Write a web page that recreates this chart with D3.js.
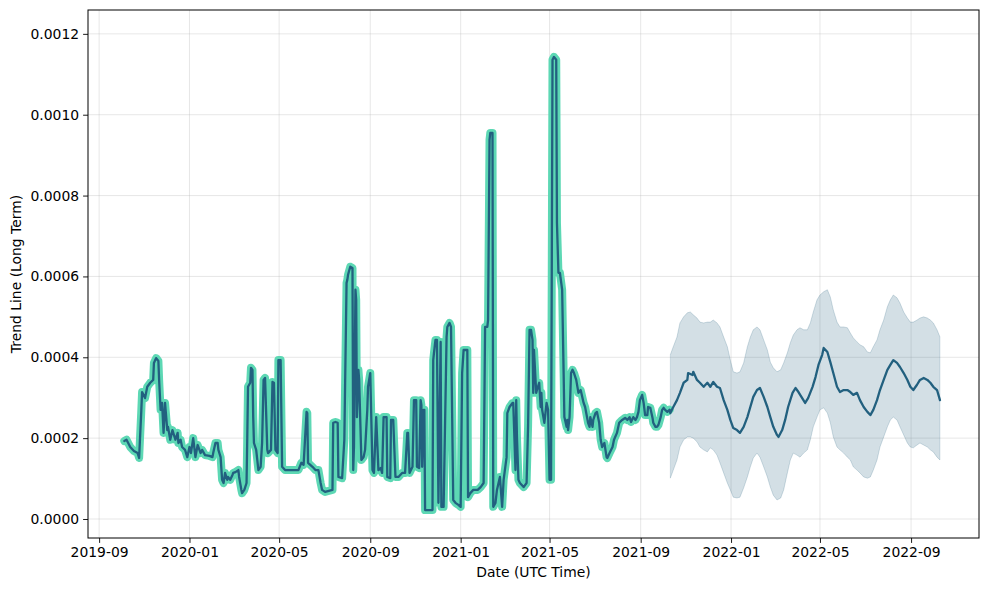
<!DOCTYPE html>
<html><head><meta charset="utf-8">
<script src="https://cdn.jsdelivr.net/npm/d3@7"></script>
<style>body{margin:0;background:#fff} svg{display:block} text{font-family:"DejaVu Sans",sans-serif}</style>
</head><body><svg id="chart" width="989" height="590"></svg>
<script>
// ---------- data ----------
const startDate = "2019-10-05";            // day 0 of the series
const xDomain = ["2019-08-17T00:00", "2022-12-01T16:00"];
const yDomain = [-0.000047, 0.001259];
const yTickValues = [0, 0.0002, 0.0004, 0.0006, 0.0008, 0.0010, 0.0012];
const xLabel = "Date (UTC Time)";
const yLabel = "Trend Line (Long Term)";

// historical trend: [day offset, value]
const histSeries = [[0,1.93e-4],[3,1.96e-4],[8,1.78e-4],[13,1.68e-4],[18,1.63e-4],[20,1.51e-4],[23,2.70e-4],[24,3.14e-4],[28,2.99e-4],[31,3.27e-4],[35,3.37e-4],[39,3.44e-4],[40,3.86e-4],[43,3.98e-4],[46,3.91e-4],[47,3.44e-4],[49,2.70e-4],[51,2.87e-4],[53,2.13e-4],[55,2.87e-4],[58,2.20e-4],[59,2.28e-4],[62,1.96e-4],[65,2.20e-4],[69,1.96e-4],[72,2.13e-4],[73,1.88e-4],[76,1.96e-4],[78,1.78e-4],[82,1.71e-4],[85,1.53e-4],[88,1.78e-4],[90,1.63e-4],[93,2.00e-4],[96,1.53e-4],[99,1.83e-4],[103,1.63e-4],[105,1.71e-4],[109,1.58e-4],[115,1.56e-4],[119,1.53e-4],[120,1.63e-4],[123,1.88e-4],[126,1.88e-4],[127,1.71e-4],[130,1.53e-4],[132,0.97e-4],[134,0.89e-4],[136,1.14e-4],[139,0.97e-4],[140,1.04e-4],[143,0.97e-4],[146,1.09e-4],[147,1.14e-4],[150,1.16e-4],[154,1.21e-4],[155,1.04e-4],[158,0.72e-4],[159,0.64e-4],[162,0.72e-4],[165,0.89e-4],[166,2.03e-4],[167,3.27e-4],[170,3.37e-4],[171,3.74e-4],[173,3.69e-4],[174,2.52e-4],[175,1.88e-4],[178,1.71e-4],[181,1.21e-4],[184,1.29e-4],[186,1.88e-4],[188,3.44e-4],[190,3.49e-4],[193,1.71e-4],[194,1.63e-4],[198,1.71e-4],[200,3.39e-4],[202,3.37e-4],[204,1.71e-4],[207,1.63e-4],[208,3.93e-4],[211,3.93e-4],[213,1.29e-4],[217,1.21e-4],[227,1.21e-4],[235,1.21e-4],[239,1.39e-4],[242,1.34e-4],[246,2.65e-4],[247,2.62e-4],[248,1.39e-4],[254,1.29e-4],[258,1.21e-4],[262,1.21e-4],[265,0.89e-4],[267,0.72e-4],[271,0.67e-4],[281,0.72e-4],[282,2.38e-4],[285,2.40e-4],[288,2.38e-4],[289,1.04e-4],[294,1.01e-4],[297,1.96e-4],[298,3.27e-4],[300,5.84e-4],[301,5.91e-4],[302,6.04e-4],[305,6.24e-4],[308,6.21e-4],[309,1.21e-4],[310,1.78e-4],[312,5.67e-4],[313,5.42e-4],[314,2.52e-4],[316,3.69e-4],[317,3.44e-4],[320,1.46e-4],[323,1.53e-4],[325,1.71e-4],[328,2.70e-4],[329,3.27e-4],[332,3.61e-4],[335,1.21e-4],[337,1.14e-4],[340,2.52e-4],[343,1.21e-4],[346,1.26e-4],[348,1.14e-4],[350,2.52e-4],[354,2.52e-4],[355,1.04e-4],[359,1.01e-4],[360,2.45e-4],[363,2.45e-4],[366,1.04e-4],[370,1.04e-4],[375,1.14e-4],[379,1.14e-4],[382,2.13e-4],[383,2.13e-4],[385,1.14e-4],[389,1.29e-4],[391,2.94e-4],[394,2.94e-4],[395,1.29e-4],[398,1.26e-4],[400,2.94e-4],[401,2.82e-4],[402,1.29e-4],[404,2.70e-4],[405,2.70e-4],[406,0.22e-4],[410,0.22e-4],[416,0.22e-4],[417,3.93e-4],[418,4.11e-4],[420,4.43e-4],[422,4.43e-4],[424,0.40e-4],[427,4.38e-4],[428,0.30e-4],[431,0.30e-4],[435,4.50e-4],[436,4.75e-4],[439,4.85e-4],[441,4.75e-4],[444,0.47e-4],[447,0.40e-4],[451,0.35e-4],[454,0.30e-4],[456,3.61e-4],[458,4.18e-4],[460,4.18e-4],[463,4.18e-4],[464,0.54e-4],[467,0.64e-4],[471,0.72e-4],[477,0.72e-4],[481,0.79e-4],[485,0.89e-4],[487,4.75e-4],[490,4.75e-4],[491,4.92e-4],[493,9.38e-4],[494,9.55e-4],[497,9.55e-4],[498,0.30e-4],[501,0.40e-4],[503,0.72e-4],[507,1.04e-4],[510,0.30e-4],[512,0.97e-4],[516,1.53e-4],[517,2.62e-4],[520,2.77e-4],[524,2.87e-4],[525,2.87e-4],[528,1.21e-4],[529,2.94e-4],[530,2.03e-4],[532,0.97e-4],[534,0.89e-4],[539,0.79e-4],[543,0.89e-4],[545,2.28e-4],[547,4.68e-4],[549,4.68e-4],[551,4.43e-4],[552,3.12e-4],[553,4.18e-4],[556,3.12e-4],[557,3.19e-4],[560,3.37e-4],[562,2.77e-4],[563,3.12e-4],[564,2.70e-4],[567,2.38e-4],[570,2.87e-4],[572,2.70e-4],[574,0.97e-4],[576,0.97e-4],[578,11.36e-4],[580,11.43e-4],[583,11.36e-4],[584,7.32e-4],[586,6.09e-4],[588,6.09e-4],[591,5.67e-4],[593,3.61e-4],[594,2.52e-4],[597,2.28e-4],[598,2.45e-4],[599,2.20e-4],[601,2.52e-4],[603,3.61e-4],[605,3.69e-4],[607,3.61e-4],[610,3.44e-4],[613,3.12e-4],[616,3.19e-4],[620,2.87e-4],[622,2.77e-4],[626,2.38e-4],[628,2.28e-4],[629,2.52e-4],[632,2.28e-4],[633,2.45e-4],[636,2.62e-4],[638,2.65e-4],[641,2.38e-4],[643,1.96e-4],[645,1.78e-4],[648,1.88e-4],[651,1.53e-4],[652,1.51e-4],[655,1.63e-4],[659,1.78e-4],[661,1.96e-4],[665,2.13e-4],[668,2.38e-4],[672,2.45e-4],[676,2.50e-4],[679,2.45e-4],[682,2.52e-4],[684,2.40e-4],[687,2.52e-4],[690,2.45e-4],[692,2.52e-4],[694,2.65e-4],[696,2.94e-4],[699,3.07e-4],[701,2.87e-4],[703,2.57e-4],[706,2.57e-4],[707,2.77e-4],[710,2.75e-4],[713,2.50e-4],[714,2.38e-4],[717,2.28e-4],[719,2.28e-4],[721,2.33e-4],[724,2.52e-4],[726,2.70e-4],[728,2.75e-4],[730,2.70e-4],[733,2.65e-4],[736,2.70e-4]];

// forecast trend: [day offset, value]
const forecastSeries = [[737,2.62e-4],[741,2.77e-4],[746,2.94e-4],[750,3.12e-4],[755,3.37e-4],[760,3.44e-4],[761,3.61e-4],[767,3.56e-4],[768,3.64e-4],[773,3.44e-4],[777,3.37e-4],[782,3.27e-4],[787,3.37e-4],[791,3.27e-4],[795,3.39e-4],[800,3.27e-4],[804,3.24e-4],[809,2.94e-4],[814,2.70e-4],[818,2.45e-4],[822,2.25e-4],[827,2.20e-4],[831,2.13e-4],[836,2.28e-4],[841,2.52e-4],[845,2.77e-4],[849,3.02e-4],[854,3.19e-4],[858,3.24e-4],[863,3.02e-4],[868,2.77e-4],[872,2.52e-4],[876,2.28e-4],[881,2.08e-4],[883,2.03e-4],[888,2.20e-4],[892,2.45e-4],[896,2.77e-4],[902,3.12e-4],[906,3.24e-4],[910,3.14e-4],[915,2.99e-4],[919,2.87e-4],[923,2.99e-4],[929,3.27e-4],[933,3.51e-4],[937,3.81e-4],[942,4.06e-4],[944,4.23e-4],[949,4.13e-4],[953,3.88e-4],[957,3.61e-4],[962,3.27e-4],[966,3.14e-4],[971,3.19e-4],[976,3.19e-4],[980,3.14e-4],[984,3.07e-4],[989,3.12e-4],[993,2.94e-4],[998,2.77e-4],[1003,2.65e-4],[1007,2.57e-4],[1011,2.70e-4],[1016,2.94e-4],[1020,3.19e-4],[1025,3.44e-4],[1030,3.69e-4],[1034,3.81e-4],[1038,3.93e-4],[1043,3.86e-4],[1047,3.76e-4],[1052,3.61e-4],[1057,3.44e-4],[1061,3.27e-4],[1065,3.19e-4],[1070,3.32e-4],[1074,3.44e-4],[1079,3.49e-4],[1084,3.44e-4],[1088,3.37e-4],[1092,3.27e-4],[1097,3.19e-4],[1101,2.94e-4]];

// forecast uncertainty band: [day offset, lower, upper]
const forecastBand = [[737,1.01e-4,4.06e-4],[741,1.21e-4,4.26e-4],[746,1.46e-4,4.50e-4],[750,1.78e-4,4.85e-4],[755,1.96e-4,5.00e-4],[760,2.03e-4,5.10e-4],[764,2.03e-4,5.12e-4],[768,2.00e-4,5.05e-4],[773,1.91e-4,4.97e-4],[777,1.78e-4,4.87e-4],[782,1.71e-4,4.85e-4],[787,1.66e-4,4.87e-4],[791,1.76e-4,4.87e-4],[795,1.71e-4,4.92e-4],[800,1.58e-4,4.85e-4],[804,1.39e-4,4.75e-4],[809,1.14e-4,4.50e-4],[814,0.89e-4,4.26e-4],[818,0.72e-4,3.93e-4],[822,0.54e-4,3.64e-4],[827,0.52e-4,3.61e-4],[831,0.54e-4,3.64e-4],[836,0.77e-4,3.86e-4],[841,1.04e-4,4.26e-4],[845,1.29e-4,4.50e-4],[849,1.51e-4,4.68e-4],[854,1.63e-4,4.75e-4],[858,1.53e-4,4.68e-4],[863,1.29e-4,4.43e-4],[868,1.04e-4,4.18e-4],[872,0.79e-4,3.88e-4],[876,0.59e-4,3.74e-4],[881,0.47e-4,3.64e-4],[886,0.52e-4,3.69e-4],[890,0.72e-4,3.86e-4],[895,1.14e-4,4.11e-4],[899,1.46e-4,4.36e-4],[903,1.63e-4,4.55e-4],[908,1.58e-4,4.68e-4],[912,1.53e-4,4.73e-4],[917,1.63e-4,4.68e-4],[922,1.71e-4,4.68e-4],[926,1.96e-4,4.85e-4],[930,2.28e-4,5.12e-4],[935,2.52e-4,5.42e-4],[939,2.70e-4,5.54e-4],[944,2.75e-4,5.62e-4],[949,2.62e-4,5.67e-4],[953,2.38e-4,5.49e-4],[957,2.03e-4,5.17e-4],[962,1.78e-4,4.87e-4],[966,1.71e-4,4.75e-4],[971,1.63e-4,4.75e-4],[976,1.53e-4,4.73e-4],[980,1.46e-4,4.60e-4],[984,1.29e-4,4.48e-4],[989,1.21e-4,4.38e-4],[993,1.14e-4,4.31e-4],[998,1.04e-4,4.26e-4],[1003,1.01e-4,4.13e-4],[1007,1.04e-4,4.11e-4],[1011,1.21e-4,4.26e-4],[1016,1.46e-4,4.43e-4],[1020,1.78e-4,4.68e-4],[1025,2.03e-4,4.92e-4],[1030,2.28e-4,5.25e-4],[1034,2.45e-4,5.42e-4],[1038,2.52e-4,5.54e-4],[1043,2.45e-4,5.47e-4],[1047,2.28e-4,5.34e-4],[1052,2.08e-4,5.12e-4],[1057,1.88e-4,4.97e-4],[1061,1.78e-4,4.87e-4],[1065,1.76e-4,4.87e-4],[1070,1.83e-4,4.92e-4],[1074,1.88e-4,4.97e-4],[1079,1.83e-4,5.00e-4],[1084,1.78e-4,4.97e-4],[1088,1.71e-4,4.92e-4],[1092,1.66e-4,4.85e-4],[1097,1.53e-4,4.68e-4],[1101,1.46e-4,4.50e-4]];

// ---------- drawing ----------
const plot = {left: 88, top: 10, right: 979, bottom: 538};
const svg = d3.select("#chart");
const t0 = d3.utcParse("%Y-%m-%d")(startDate);
const toDate = d => d3.utcDay.offset(t0, d);
const parseX = d3.utcParse("%Y-%m-%dT%H:%M");

const x = d3.scaleUtc().domain(xDomain.map(parseX)).range([plot.left, plot.right]);
const y = d3.scaleLinear().domain(yDomain).range([plot.bottom, plot.top]);

const xTicks = d3.utcMonth.every(4).range(x.domain()[0], x.domain()[1]);

const fs = "13.9px";
const grid = svg.append("g");
grid.selectAll("line.xg").data(xTicks).join("line")
  .attr("x1", d => x(d)).attr("x2", d => x(d))
  .attr("y1", plot.top).attr("y2", plot.bottom)
  .attr("stroke", "#b0b0b0").attr("stroke-opacity", 0.35).attr("stroke-width", 0.9);
grid.selectAll("line.yg").data(yTickValues).join("line")
  .attr("y1", d => y(d)).attr("y2", d => y(d))
  .attr("x1", plot.left).attr("x2", plot.right)
  .attr("stroke", "#b0b0b0").attr("stroke-opacity", 0.35).attr("stroke-width", 0.9);

const dark = "#22607f";
const teal = "#5dd8b4";

// band
const area = d3.area().x(d => x(toDate(d[0]))).y0(d => y(d[1])).y1(d => y(d[2]));
svg.append("path").datum(forecastBand).attr("d", area)
  .attr("fill", dark).attr("fill-opacity", 0.2);
const upperLine = d3.line().x(d => x(toDate(d[0]))).y(d => y(d[2]));
const lowerLine = d3.line().x(d => x(toDate(d[0]))).y(d => y(d[1]));
[upperLine, lowerLine].forEach(l => svg.append("path").datum(forecastBand).attr("d", l)
  .attr("fill", "none").attr("stroke", dark).attr("stroke-opacity", 0.2).attr("stroke-width", 1));
svg.append("line")
  .attr("x1", x(toDate(forecastBand[0][0]))).attr("x2", x(toDate(forecastBand[0][0])))
  .attr("y1", y(forecastBand[0][1])).attr("y2", y(forecastBand[0][2]))
  .attr("stroke", dark).attr("stroke-opacity", 0.15);
const lb = forecastBand[forecastBand.length - 1];
svg.append("line")
  .attr("x1", x(toDate(lb[0]))).attr("x2", x(toDate(lb[0])))
  .attr("y1", y(lb[1])).attr("y2", y(lb[2]))
  .attr("stroke", dark).attr("stroke-opacity", 0.15);

const line = d3.line().x(d => x(toDate(d[0]))).y(d => y(d[1]));
svg.append("path").datum(histSeries).attr("d", line)
  .attr("fill", "none").attr("stroke", teal).attr("stroke-width", 8)
  .attr("stroke-linejoin", "round").attr("stroke-linecap", "round");
svg.append("path").datum(histSeries.concat(forecastSeries)).attr("d", line)
  .attr("fill", "none").attr("stroke", dark).attr("stroke-width", 2.3)
  .attr("stroke-linejoin", "round").attr("stroke-linecap", "round");

// axes
const xAxis = d3.axisBottom(x).tickValues(xTicks).tickFormat(d3.utcFormat("%Y-%m"))
  .tickSize(4.9).tickPadding(4).tickSizeOuter(0);
const gx = svg.append("g").attr("transform", `translate(0,${plot.bottom})`).call(xAxis);
const yAxis = d3.axisLeft(y).tickValues(yTickValues).tickFormat(d3.format(".4f"))
  .tickSize(4.9).tickPadding(4).tickSizeOuter(0);
const gy = svg.append("g").attr("transform", `translate(${plot.left},0)`).call(yAxis);
[gx, gy].forEach(g => {
  g.select(".domain").remove();
  g.selectAll(".tick line").attr("stroke", "#000").attr("stroke-width", 0.9);
  g.selectAll(".tick text").attr("fill", "#000").style("font-size", fs)
    .style("font-family", '"DejaVu Sans", sans-serif');
});

svg.append("rect").attr("x", plot.left).attr("y", plot.top)
  .attr("width", plot.right - plot.left).attr("height", plot.bottom - plot.top)
  .attr("fill", "none").attr("stroke", "#000").attr("stroke-width", 1);

svg.append("text").attr("x", (plot.left + plot.right) / 2).attr("y", 577)
  .attr("text-anchor", "middle").style("font-size", fs).text(xLabel);
svg.append("text").attr("transform", `translate(21,${(plot.top + plot.bottom) / 2}) rotate(-90)`)
  .attr("text-anchor", "middle").style("font-size", fs).text(yLabel);
</script>
</body></html>
